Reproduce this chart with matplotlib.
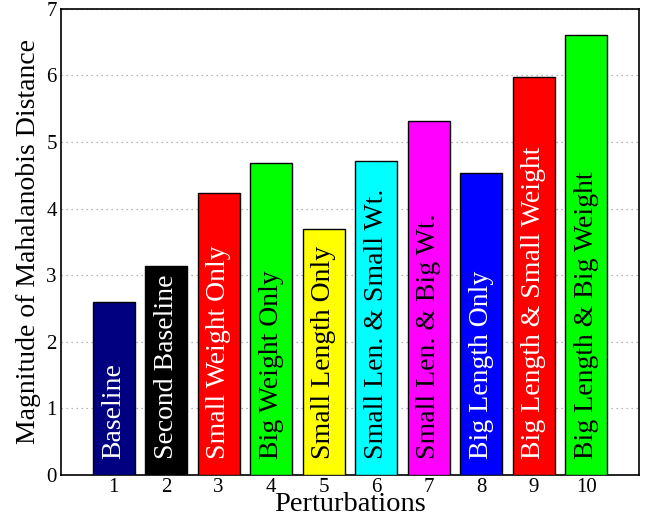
import matplotlib.pyplot as plt

plt.rcParams['font.family'] = ['Liberation Serif', 'DejaVu Serif']

positions = [1, 2, 3, 4, 5, 6, 7, 8, 9, 10]
distances = [2.60, 3.14, 4.23, 4.69, 3.69, 4.72, 5.32, 4.53, 5.98, 6.61]
labels = ["Baseline", "Second Baseline", "Small Weight Only", "Big Weight Only",
          "Small Length Only", "Small Len. & Small Wt.", "Small Len. & Big Wt.",
          "Big Length Only", "Big Length & Small Weight", "Big Length & Big Weight"]
bar_colors = ["#000080", "#000000", "#ff0000", "#00ff00", "#ffff00",
              "#00ffff", "#ff00ff", "#0000ff", "#ff0000", "#00ff00"]
text_colors = ["white", "white", "white", "black", "black",
               "black", "black", "white", "white", "black"]

fig = plt.figure(figsize=(6.49, 5.2), dpi=100)
ax = fig.add_axes([0.094, 0.087, 0.890, 0.896])

ax.bar(positions, distances, width=0.8, color=bar_colors,
       edgecolor="black", linewidth=1.0, zorder=3)

for x, lab, tc in zip(positions, labels, text_colors):
    ax.text(x, 0.24, lab, rotation=90, ha="center", va="bottom",
            color=tc, fontsize=20, zorder=4)

ax.set_xlim(0, 11)
ax.set_ylim(0, 7)
ax.set_xticks(positions)
ax.set_yticks(range(8))
ax.tick_params(length=0, labelsize=15)
ax.tick_params(axis="x", pad=2)
ax.tick_params(axis="y", pad=3)
ax.yaxis.grid(True, linestyle=(0, (1, 3)), color="#a0a0a0", linewidth=0.9, zorder=0)
for s in ax.spines.values():
    s.set_linewidth(1.2)

ax.set_xlabel("Perturbations", fontsize=20.5, labelpad=-3)
ax.set_ylabel("Magnitude of Mahalanobis Distance", fontsize=20, labelpad=4)

fig.savefig("out.png", dpi=100)
